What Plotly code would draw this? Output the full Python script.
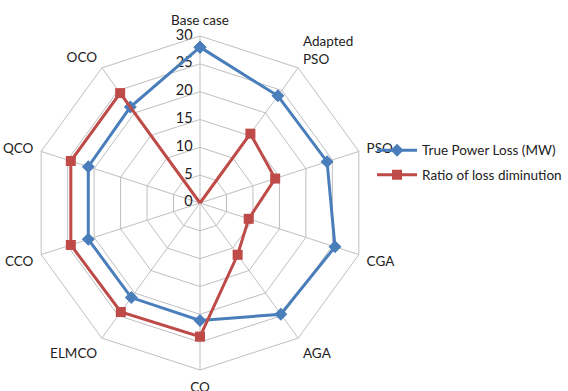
import plotly.graph_objects as go

categories = ["Base case", "Adapted<br>PSO", "PSO", "CGA", "AGA", "CO", "ELMCO", "CCO", "QCO", "OCO"]
true_power_loss = [28.0, 23.8, 24.0, 25.5, 24.7, 21.1, 21.0, 21.1, 21.1, 21.3]
loss_diminution = [0.0, 15.4, 14.2, 9.2, 11.5, 24.0, 24.2, 24.4, 24.4, 24.4]
radial_ticks = [0, 5, 10, 15, 20, 25, 30]

BLUE = "#4A7EBB"
RED = "#BE4B48"
GRID = "#BFBFBF"
TEXT = "#222222"
FONT = "Lato"


def closed(values):
    return values + values[:1]


fig = go.Figure()

# Radial scale labels, right-aligned just left of the "Base case" spoke.
# A text point sitting exactly on the pole is dropped, so nudge it off by a hair.
fig.add_trace(go.Scatterpolar(
    r=[max(v, 0.05) for v in radial_ticks],
    theta=[categories[0]] * len(radial_ticks),
    mode="text", text=[f"{v}\u00a0\u00a0" for v in radial_ticks],
    textposition="middle left", cliponaxis=False,
    textfont=dict(family=FONT, size=14.5, color=TEXT),
    showlegend=False, hoverinfo="skip",
))

fig.add_trace(go.Scatterpolar(
    r=closed(true_power_loss), theta=closed(categories),
    mode="lines+markers", name="True Power Loss (MW)", legendgroup="a",
    line=dict(color=BLUE, width=3),
    marker=dict(symbol="diamond", size=10, color=BLUE),
))
fig.add_trace(go.Scatterpolar(
    r=closed(loss_diminution), theta=closed(categories),
    mode="lines+markers", name="Ratio of loss diminution", legendgroup="b",
    line=dict(color=RED, width=3),
    marker=dict(symbol="square", size=10, color=RED),
    cliponaxis=False,
))

fig.update_layout(
    width=568, height=391,
    margin=dict(l=0, r=0, t=36, b=21, autoexpand=False),
    paper_bgcolor="white", plot_bgcolor="white",
    font=dict(family=FONT, size=13, color=TEXT),
    polar=dict(
        domain=dict(x=[33 / 568, 367 / 568], y=[0, 1]),
        bgcolor="white",
        gridshape="linear",
        angularaxis=dict(
            direction="clockwise", rotation=90,
            showline=True, linecolor=GRID, linewidth=1,
            gridcolor=GRID, gridwidth=1,
            ticks="outside", ticklen=5, tickcolor="rgba(0,0,0,0)",
            tickfont=dict(family=FONT, size=13.5, color=TEXT),
        ),
        radialaxis=dict(
            range=[0, 30], tickvals=radial_ticks, angle=90,
            showticklabels=False, layer="below traces",
            showline=False, gridcolor=GRID, gridwidth=1, ticks="",
        ),
    ),
    legend=dict(
        x=0.655, y=0.62, xanchor="left", yanchor="middle",
        bgcolor="rgba(0,0,0,0)", tracegroupgap=4, itemwidth=40,
        font=dict(family=FONT, size=13.5, color=TEXT),
    ),
)

fig.write_html("out.html")
